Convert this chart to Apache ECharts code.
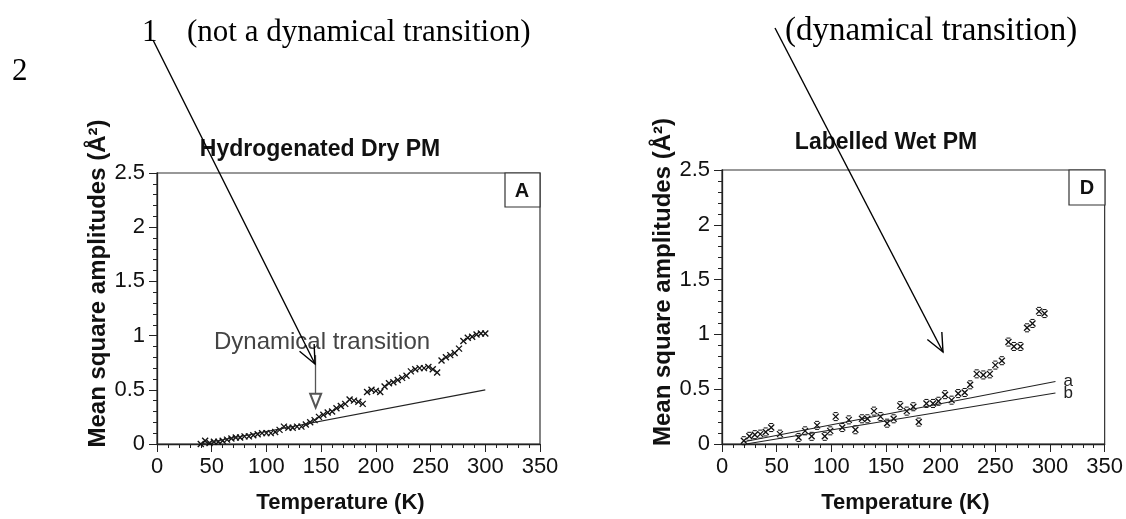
<!DOCTYPE html>
<html>
<head>
<meta charset="utf-8">
<script src="https://cdn.jsdelivr.net/npm/echarts@6/dist/echarts.min.js"></script>
<style>
html, body { margin: 0; background: #fff; }
#chart { width: 1126px; height: 519px; }
</style>
</head>
<body>
<div id="chart"></div>
<script>
// axis ticks
var xTicks = [0, 50, 100, 150, 200, 250, 300, 350];
var yTicks = [0, 0.5, 1, 1.5, 2, 2.5];

// panel A: hydrogenated dry PM
var dryT = [40, 44, 48, 52, 56, 60, 64, 68, 72, 76, 80, 84, 88, 92, 96, 100, 104, 108, 112, 116,
  120, 124, 128, 132, 136, 140, 144, 148, 152, 156, 160, 164, 168, 172, 176, 180, 184, 188, 192, 196,
  200, 204, 208, 212, 216, 220, 224, 228, 232, 236, 240, 244, 248, 252, 256, 260, 264, 268, 272, 276,
  280, 284, 288, 292, 296, 300];
var dryMsa = [0.00, 0.03, 0.01, 0.02, 0.02, 0.03, 0.04, 0.05, 0.06, 0.06, 0.07, 0.07, 0.08, 0.09, 0.10, 0.10, 0.10, 0.11, 0.13, 0.16,
  0.15, 0.15, 0.16, 0.16, 0.18, 0.20, 0.22, 0.25, 0.27, 0.29, 0.30, 0.33, 0.35, 0.37, 0.41, 0.40, 0.39, 0.37, 0.48, 0.50,
  0.49, 0.48, 0.53, 0.56, 0.57, 0.59, 0.61, 0.63, 0.67, 0.69, 0.70, 0.70, 0.71, 0.69, 0.66, 0.77, 0.80, 0.82, 0.84, 0.88,
  0.95, 0.98, 0.99, 1.01, 1.02, 1.02];
var dryLineT = [40, 300];
var dryLineMsa = [0.0, 0.5];

// panel D: labelled wet PM
var wetT = [20, 25, 30, 35, 40, 45, 53, 70, 76, 82, 87, 94, 99, 104, 110, 116, 122, 128, 133, 139,
  145, 151, 157, 163, 169, 175, 180, 187, 193, 198, 204, 210, 216, 222, 227, 233, 239, 245, 250, 256,
  262, 267, 273, 279, 284, 290, 295];
var wetMsa = [0.03, 0.07, 0.085, 0.09, 0.11, 0.15, 0.09, 0.06, 0.12, 0.07, 0.17, 0.07, 0.12, 0.25, 0.15, 0.22, 0.13, 0.23, 0.23, 0.30,
  0.25, 0.19, 0.23, 0.35, 0.30, 0.34, 0.20, 0.37, 0.37, 0.39, 0.45, 0.40, 0.46, 0.47, 0.54, 0.64, 0.63, 0.64, 0.72, 0.76,
  0.93, 0.89, 0.89, 1.06, 1.10, 1.21, 1.19];
var wetLineAT = [20, 305];
var wetLineAMsa = [0.02, 0.57];
var wetLineBT = [22, 305];
var wetLineBMsa = [0.0, 0.465];

function zip(a, b) {
  return a.map(function (v, i) { return [v, b[i]]; });
}

var chart = echarts.init(document.getElementById('chart'));

function crossItem(s, caps) {
  return function (params, api) {
    var p = api.coord([api.value(0), api.value(1)]);
    var st = { stroke: '#111', lineWidth: 1.3 };
    var kids = [
      { type: 'line', shape: { x1: p[0] - s, y1: p[1] - s, x2: p[0] + s, y2: p[1] + s }, style: st },
      { type: 'line', shape: { x1: p[0] - s, y1: p[1] + s, x2: p[0] + s, y2: p[1] - s }, style: st }
    ];
    if (caps) {
      var cs = { stroke: '#111', lineWidth: 1 };
      kids.push({ type: 'line', shape: { x1: p[0] - 2, y1: p[1] - s - 1, x2: p[0] + 2, y2: p[1] - s - 1 }, style: cs });
      kids.push({ type: 'line', shape: { x1: p[0] - 2, y1: p[1] + s + 1, x2: p[0] + 2, y2: p[1] + s + 1 }, style: cs });
    }
    return { type: 'group', children: kids };
  };
}

function xAxisFor(idx) {
  return {
    gridIndex: idx, type: 'value',
    min: xTicks[0], max: xTicks[xTicks.length - 1], interval: xTicks[1] - xTicks[0],
    name: 'Temperature (K)', nameLocation: 'middle', nameGap: 48,
    nameTextStyle: { fontFamily: 'Liberation Sans', fontWeight: 'bold', fontSize: 22, color: '#111', padding: [0, 16, 0, 0] },
    axisLine: { lineStyle: { color: '#222', width: 1.3 } },
    axisTick: { length: 8, lineStyle: { color: '#222' } },
    minorTick: { show: true, splitNumber: 5, length: 4, lineStyle: { color: '#222' } },
    axisLabel: { fontFamily: 'Liberation Sans', fontSize: 22, color: '#111', margin: 12 },
    splitLine: { show: false }
  };
}

function yAxisFor(idx) {
  return {
    gridIndex: idx, type: 'value',
    min: yTicks[0], max: yTicks[yTicks.length - 1], interval: yTicks[1] - yTicks[0],
    name: 'Mean square amplitudes (Å²)', nameLocation: 'middle', nameGap: 47, nameRotate: 90,
    nameTextStyle: { fontFamily: 'Liberation Sans', fontWeight: 'bold', fontSize: 24, color: '#111', padding: [0, 0, 0, 50] },
    axisLine: { lineStyle: { color: '#222', width: 1.3 } },
    axisTick: { length: 8, lineStyle: { color: '#222' } },
    minorTick: { show: true, splitNumber: 5, length: 4, lineStyle: { color: '#222' } },
    axisLabel: { fontFamily: 'Liberation Sans', fontSize: 22, color: '#111', margin: 12 },
    splitLine: { show: false }
  };
}

// annotation arrows with open V heads
function arrow(x1, y1, x2, y2) {
  var dx = x2 - x1, dy = y2 - y1, len = Math.sqrt(dx * dx + dy * dy);
  var ux = dx / len, uy = dy / len, h = 20, a = 0.42;
  var c = Math.cos(a), s = Math.sin(a);
  var l = [x2 - h * (ux * c - uy * s), y2 - h * (uy * c + ux * s)];
  var r = [x2 - h * (ux * c + uy * s), y2 - h * (uy * c - ux * s)];
  var st = { stroke: '#000', lineWidth: 1.4 };
  return [
    { type: 'line', shape: { x1: x1, y1: y1, x2: x2, y2: y2 }, style: st, z: 100 },
    { type: 'polyline', shape: { points: [l, [x2, y2], r] }, style: st, z: 100 }
  ];
}

var serif = { fontFamily: 'Liberation Serif', fontSize: 31, fill: '#000' };
var graphics = [
  { type: 'text', left: 142, top: 17, style: Object.assign({ text: '1' }, serif) },
  { type: 'text', left: 187, top: 17, style: Object.assign({ text: '(not a dynamical transition)' }, serif) },
  { type: 'text', left: 12, top: 56, style: Object.assign({ text: '2' }, serif) },
  { type: 'text', left: 785, top: 15, style: Object.assign({}, serif, { text: '(dynamical transition)', fontSize: 33 }) },
  { type: 'text', x: 320, y: 150, style: { text: 'Hydrogenated Dry PM', fontFamily: 'Liberation Sans', fontWeight: 'bold', fontSize: 23, fill: '#111', align: 'center', verticalAlign: 'middle' } },
  { type: 'text', x: 886, y: 143, style: { text: 'Labelled Wet PM', fontFamily: 'Liberation Sans', fontWeight: 'bold', fontSize: 23, fill: '#111', align: 'center', verticalAlign: 'middle' } },
  { type: 'rect', shape: { x: 505, y: 173, width: 35, height: 34 }, style: { fill: '#fff', stroke: '#333', lineWidth: 1.2 } },
  { type: 'text', x: 522, y: 191, style: { text: 'A', fontFamily: 'Liberation Sans', fontWeight: 'bold', fontSize: 20, fill: '#111', align: 'center', verticalAlign: 'middle' } },
  { type: 'rect', shape: { x: 1069, y: 170, width: 36, height: 35 }, style: { fill: '#fff', stroke: '#333', lineWidth: 1.2 } },
  { type: 'text', x: 1087, y: 188, style: { text: 'D', fontFamily: 'Liberation Sans', fontWeight: 'bold', fontSize: 20, fill: '#111', align: 'center', verticalAlign: 'middle' } },
  { type: 'text', x: 214, y: 342, style: { text: 'Dynamical transition', fontFamily: 'Liberation Sans', fontSize: 24, fill: '#444', verticalAlign: 'middle' } }
].concat(arrow(153, 40, 315, 364), arrow(775, 28, 943, 352));

var option = {
  animation: false,
  grid: [
    { left: 157, top: 173, width: 383, height: 282, show: true, borderColor: '#333', borderWidth: 1.2 },
    { left: 722, top: 170, width: 383, height: 283, show: true, borderColor: '#333', borderWidth: 1.2 }
  ],
  xAxis: [xAxisFor(0), xAxisFor(1)],
  yAxis: [yAxisFor(0), yAxisFor(1)],
  graphic: graphics,
  series: [
    {
      type: 'line', xAxisIndex: 0, yAxisIndex: 0, data: zip(dryLineT, dryLineMsa),
      symbol: 'none', lineStyle: { color: '#222', width: 1.2 },
      markLine: {
        silent: true, symbol: ['none', 'emptyTriangle'], symbolSize: [11, 14],
        lineStyle: { color: '#555', width: 1.3, type: 'solid' }, label: { show: false },
        data: [[{ coord: [145, 0.82] }, { coord: [145, 0.40] }]]
      }
    },
    { type: 'custom', xAxisIndex: 0, yAxisIndex: 0, data: zip(dryT, dryMsa), renderItem: crossItem(3, false) },
    {
      type: 'line', xAxisIndex: 1, yAxisIndex: 1, data: zip(wetLineAT, wetLineAMsa),
      symbol: 'none', lineStyle: { color: '#222', width: 1.1 },
      endLabel: { show: true, formatter: 'a', fontFamily: 'Liberation Sans', fontSize: 17, color: '#222', distance: 8 }
    },
    {
      type: 'line', xAxisIndex: 1, yAxisIndex: 1, data: zip(wetLineBT, wetLineBMsa),
      symbol: 'none', lineStyle: { color: '#222', width: 1.1 },
      endLabel: { show: true, formatter: 'b', fontFamily: 'Liberation Sans', fontSize: 17, color: '#222', distance: 8 }
    },
    { type: 'custom', xAxisIndex: 1, yAxisIndex: 1, data: zip(wetT, wetMsa), renderItem: crossItem(3, true) }
  ]
};
chart.setOption(option);
</script>
</body>
</html>
